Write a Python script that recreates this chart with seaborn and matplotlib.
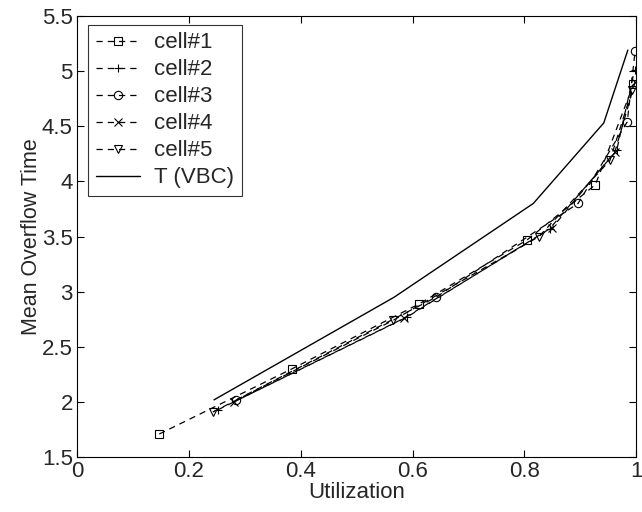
import pandas as pd
import matplotlib
matplotlib.use("Agg")
import matplotlib.pyplot as plt
import seaborn as sns

# values
cell1_x = [0.147, 0.384, 0.612, 0.805, 0.927, 0.995]
cell1_y = [1.71, 2.30, 2.89, 3.47, 3.97, 4.88]
cell2_x = [0.252, 0.59, 0.845, 0.965, 0.997]
cell2_y = [1.93, 2.77, 3.57, 4.28, 5.01]
cell3_x = [0.285, 0.642, 0.896, 0.984, 0.998]
cell3_y = [2.02, 2.95, 3.80, 4.54, 5.18]
cell4_x = [0.28, 0.585, 0.85, 0.962, 0.998]
cell4_y = [2.00, 2.76, 3.58, 4.27, 4.90]
cell5_x = [0.243, 0.565, 0.826, 0.953, 0.993]
cell5_y = [1.91, 2.74, 3.50, 4.19, 4.83]
vbc_x = [0.245, 0.567, 0.816, 0.942, 0.985]
vbc_y = [2.02, 2.95, 3.80, 4.53, 5.19]

sns.set_style("white")
plt.rcParams['font.family'] = ['Liberation Sans', 'DejaVu Sans']

fig = plt.figure(figsize=(6.42, 5.12), dpi=100)
ax = fig.add_axes([0.12, 0.107, 0.871, 0.862])

series = [
    ('cell#1', cell1_x, cell1_y, 's'),
    ('cell#2', cell2_x, cell2_y, '+'),
    ('cell#3', cell3_x, cell3_y, 'o'),
    ('cell#4', cell4_x, cell4_y, 'x'),
    ('cell#5', cell5_x, cell5_y, 'v'),
]
for name, xs, ys, m in series:
    df = pd.DataFrame({'u': xs, 't': ys})
    sns.lineplot(data=df, x='u', y='t', ax=ax, color='black', lw=0.9,
                 linestyle=(0, (5, 4)), marker=m, markersize=6,
                 markerfacecolor='none', markeredgecolor='black',
                 markeredgewidth=0.8, sort=False, label=name)

df = pd.DataFrame({'u': vbc_x, 't': vbc_y})
sns.lineplot(data=df, x='u', y='t', ax=ax, color='black', lw=1.0,
             sort=False, label='T (VBC)')

ax.set_xlim(0, 1)
ax.set_ylim(1.5, 5.5)
ax.set_xticks([0, 0.2, 0.4, 0.6, 0.8, 1])
ax.set_xticklabels(['0', '0.2', '0.4', '0.6', '0.8', '1'])
ax.set_yticks([1.5, 2, 2.5, 3, 3.5, 4, 4.5, 5, 5.5])
ax.set_yticklabels(['1.5', '2', '2.5', '3', '3.5', '4', '4.5', '5', '5.5'])
ax.tick_params(direction='in', length=5, width=0.8, labelsize=16, pad=3,
               top=True, right=True, bottom=True, left=True, color='black')
for s in ax.spines.values():
    s.set_color('black')
    s.set_linewidth(0.8)
ax.set_xlabel('Utilization', fontsize=16, labelpad=0)
ax.set_ylabel('Mean Overflow Time', fontsize=15.5, labelpad=0)

leg = ax.legend(loc='upper left', fontsize=16, frameon=True, fancybox=False,
                edgecolor='black', handlelength=2.0, borderpad=0.35,
                labelspacing=0.27, handletextpad=0.6, borderaxespad=0,
                bbox_to_anchor=(0.02, 0.98))
leg.get_frame().set_linewidth(0.8)

fig.savefig('out.png', dpi=100)
